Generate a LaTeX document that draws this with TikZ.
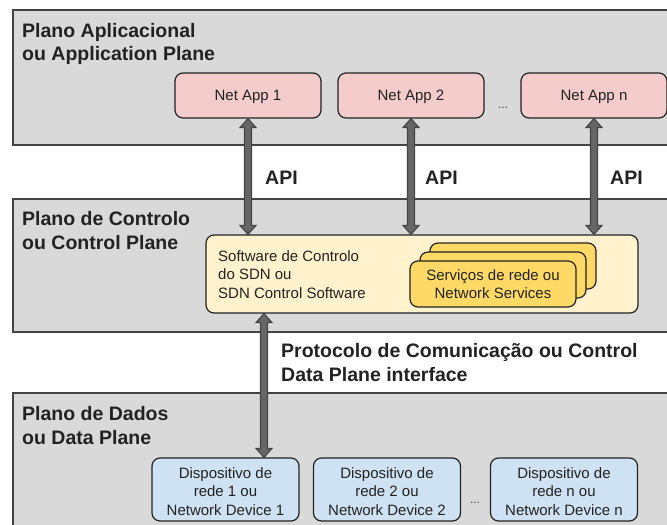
\documentclass[tikz,border=0pt]{standalone}
\usepackage{fontspec}
\setmainfont{Liberation Sans}
\usetikzlibrary{calc}

\definecolor{planefill}{HTML}{D9D9D9}
\definecolor{edgegray}{HTML}{434343}
\definecolor{appfill}{HTML}{F4CCCC}
\definecolor{ctrlfill}{HTML}{FFF2CC}
\definecolor{svcfill}{HTML}{FFD966}
\definecolor{devfill}{HTML}{CFE2F3}
\definecolor{inkgray}{HTML}{222222}
\definecolor{shaftgray}{HTML}{666666}

% raises the first line of a device label a little
\newcommand\toplift{\rule{0pt}{15pt}}

\tikzset{
  plane/.style={draw=edgegray, fill=planefill, line width=1.3pt},
  planetitle/.style={anchor=west, inner sep=0pt, align=left, text=inkgray,
    font=\fontsize{19.5}{23.5}\selectfont\bfseries},
  rbox/.style={draw=inkgray, line width=1.2pt, rounded corners=8pt, text=inkgray,
    font=\fontsize{15}{18.5}\selectfont, align=center, inner sep=0pt},
  appbox/.style={rbox, fill=appfill, minimum width=146pt, minimum height=45pt, text depth=0pt},
  devbox/.style={rbox, fill=devfill, minimum width=147pt, minimum height=63pt},
  svcbox/.style={rbox, fill=svcfill, minimum width=166pt, minimum height=46pt},
  ctrlbox/.style={rbox, fill=ctrlfill, minimum width=432pt, minimum height=78pt},
  plaintext/.style={inner sep=0pt, text=inkgray, font=\fontsize{15}{18.5}\selectfont, align=left},
  boldlabel/.style={inner sep=0pt, text=inkgray, align=left,
    font=\fontsize{19.5}{24}\selectfont\bfseries},
  dots/.style={inner sep=0pt, anchor=base, text=edgegray, font=\fontsize{12}{14}\selectfont},
  blockarrow/.style={draw=edgegray, fill=shaftgray, line width=1.1pt, line join=miter},
}

% two-headed block arrow at the x of #1, from the bottom of #2 to the top of #3
\newcommand\blockarrow[3]{%
  \path[blockarrow] let \p0=(#1), \p1=(#2.south), \p2=(#3.north) in
    (\x0,\y1) -- (\x0+8pt,\y1-9pt) -- (\x0+3.5pt,\y1-9pt) -- (\x0+3.5pt,\y2+9pt)
    -- (\x0+8pt,\y2+9pt) -- (\x0,\y2) -- (\x0-8pt,\y2+9pt) -- (\x0-3.5pt,\y2+9pt)
    -- (\x0-3.5pt,\y1-9pt) -- (\x0-8pt,\y1-9pt) -- cycle;}

\begin{document}
\begin{tikzpicture}[x=1pt, y=-1pt]
  \useasboundingbox (0,0) rectangle (667,525);
  \clip (0,0) rectangle (667,525);
  \fill[white] (0,0) rectangle (667,525);

  % the three planes
  \draw[plane] (13,10) rectangle (690,145);
  \draw[plane] (13,199) rectangle (690,332);
  \draw[plane] (13,393) rectangle (690,545);

  \node[planetitle] (ttlapp) at (22,44) {Plano Aplicacional\\ou Application Plane};
  \node[planetitle] (ttlctrl) at (22,230.4) {Plano de Controlo\\ou Control Plane};
  \node[planetitle] (ttldata) at (22,425.4) {Plano de Dados\\ou Data Plane};

  % applications
  \node[appbox] (app1) at (248,95.5) {Net App 1};
  \node[appbox] (app2) at (411,95.5) {Net App 2};
  \node[appbox] (appn) at (594,95.5) {Net App n};
  \node[dots] (appdots) at (503,108) {...};

  % controller
  \node[ctrlbox] (ctrl) at (422,274) {};
  \node[plaintext, anchor=west] (ctrltxt) at (218,274.5)
    {Software de Controlo\\do SDN ou\\SDN Control Software};

  % stacked network services
  \node[svcbox] (svc3) at (513,266) {};
  \node[svcbox] (svc2) at (503,275) {};
  \node[svcbox] (svc1) at (493,284) {Serviços de rede ou\\Network Services};

  % devices
  \node[devbox] (dev1) at (225.5,489.5) {\toplift Dispositivo de\\rede 1 ou\\Network Device 1};
  \node[devbox] (dev2) at (387,489.5) {\toplift Dispositivo de\\rede 2 ou\\Network Device 2};
  \node[devbox] (devn) at (564,489.5) {\toplift Dispositivo de\\rede n ou\\Network Device n};
  \node[dots] (devdots) at (475,503) {...};

  % interfaces
  \blockarrow{app1.south}{app1}{ctrl}
  \blockarrow{app2.south}{app2}{ctrl}
  \blockarrow{appn.south}{appn}{ctrl}
  \coordinate (sbx) at (264,0);
  \blockarrow{sbx}{ctrl}{dev1}

  \node[boldlabel, anchor=west] (api1) at (265,178) {API};
  \node[boldlabel, anchor=west] (api2) at (425,178) {API};
  \node[boldlabel, anchor=west] (apin) at (610,178) {API};
  \node[boldlabel, anchor=west] (proto) at (281,363)
    {Protocolo de Comunicação ou Control\\Data Plane interface};
\end{tikzpicture}
\end{document}
